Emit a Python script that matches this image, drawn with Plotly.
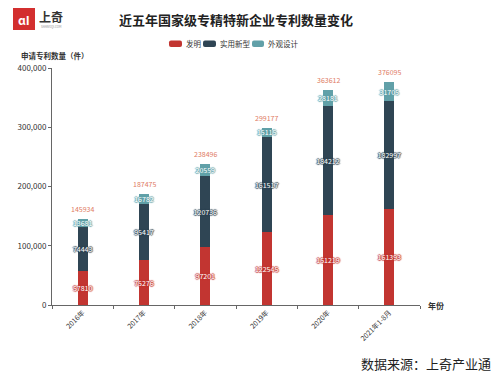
import plotly.graph_objects as go

years = ["2016年", "2017年", "2018年", "2019年", "2020年", "2021年1-8月"]
invention = [57810, 75276, 97201, 122545, 151219, 161393]
utility = [74443, 95417, 120736, 161517, 184212, 182997]
design = [13681, 16782, 20559, 15115, 28181, 31705]
totals = [145934, 187475, 238496, 299177, 363612, 376095]

series_names = ["发明", "实用新型", "外观设计"]
colors = ["#c23531", "#2f4554", "#61a0a8"]

OFF = 8  # default page body margin
W, H = 500 - OFF, 383 - OFF
L, R, T, B = 52 - OFF, 80, 68 - OFF, 78  # figure px
pw, ph = W - L - R, H - T - B

def px(x):  # x in reference-screenshot pixels
    return (x - OFF - L) / pw

def py(y):
    return (H - B - (y - OFF)) / ph

font = "Noto Sans CJK SC, Noto Sans, sans-serif"
fig = go.Figure()
for name, vals, c in zip(series_names, [invention, utility, design], colors):
    fig.add_trace(go.Bar(
        x=years, y=vals, name=name, marker=dict(color=c, line=dict(width=0)),
        text=[str(v) for v in vals], textposition="inside", insidetextanchor="middle",
        textangle=0, constraintext="none", showlegend=False,
        textfont=dict(size=7, color="white", family=font,
                      shadow=f"1px 0px 1px {c}, -1px 0px 1px {c}, 0px 1px 1px {c}, 0px -1px 1px {c}"),
        width=0.165,
    ))

for yr, tot in zip(years, totals):
    fig.add_annotation(x=yr, y=tot, text=str(tot), showarrow=False, yanchor="bottom",
                       yshift=3, font=dict(size=7, color="#e07b63", family=font))

fig.update_layout(
    width=W, height=H, barmode="stack",
    margin=dict(l=L, r=R, t=T, b=B, autoexpand=False),
    paper_bgcolor="white", plot_bgcolor="white",
    font=dict(family=font, color="#333", size=8),
    showlegend=False,
    xaxis=dict(showline=True, linecolor="#666", linewidth=1, ticks="outside",
               tickson="boundaries", ticklen=3, tickcolor="#666", tickangle=-45,
               tickfont=dict(size=7, color="#333"), showgrid=False),
    yaxis=dict(range=[0, 400000], showline=True, linecolor="#666", linewidth=1,
               ticks="outside", ticklen=3, tickcolor="#666", tickformat=",",
               dtick=100000, showgrid=False, tickfont=dict(size=8, color="#333"),
               zeroline=False),
)

def rrect(x0, x1, y0, y1, r=2):
    # rounded rect in reference pixels -> paper-coordinate SVG path
    X = lambda v: f"{px(v):.5f}"
    Y = lambda v: f"{py(v):.5f}"
    return (f"M {X(x0+r)},{Y(y0)} L {X(x1-r)},{Y(y0)} Q {X(x1)},{Y(y0)} {X(x1)},{Y(y0+r)} "
            f"L {X(x1)},{Y(y1-r)} Q {X(x1)},{Y(y1)} {X(x1-r)},{Y(y1)} "
            f"L {X(x0+r)},{Y(y1)} Q {X(x0)},{Y(y1)} {X(x0)},{Y(y1-r)} "
            f"L {X(x0)},{Y(y0+r)} Q {X(x0)},{Y(y0)} {X(x0+r)},{Y(y0)} Z")

# manual legend (reference-pixel positions)
legend_pos = [(169, 182, 184), (203, 216, 218), (252, 264, 266)]
for (x0, x1, tx), name, c in zip(legend_pos, series_names, colors):
    fig.add_shape(type="path", xref="paper", yref="paper", path=rrect(x0, x1, 40.5, 47),
                  fillcolor=c, line=dict(width=0))
    fig.add_annotation(text=name, x=px(tx), y=py(44), xref="paper", yref="paper",
                       xanchor="left", yanchor="middle", showarrow=False,
                       font=dict(size=7.5, color="#333"))

ann = [
    dict(text="<b>近五年国家级专精特新企业专利数量变化</b>", x=px(236), y=py(19),
         font=dict(size=13, color="#222")),
    dict(text="<b>申请专利数量（件）</b>", x=px(19), y=py(56), xanchor="left",
         font=dict(size=7.5, color="#333")),
    dict(text="<b>年份</b>", x=px(426), y=py(305), xanchor="left",
         font=dict(size=8, color="#333")),
    dict(text="数据来源：上奇产业通", x=px(493), y=py(363), xanchor="right",
         font=dict(size=13, color="#222")),
    dict(text="<b>ɑI</b>", x=px(24), y=py(19), font=dict(size=12, color="white")),
    dict(text="<b>上奇</b>", x=px(37), y=py(16), xanchor="left",
         font=dict(size=12, color="#333")),
    dict(text="SHANGQI.COM", x=px(39), y=py(27), xanchor="left",
         font=dict(size=3, color="#888")),
]
for a in ann:
    a.update(xref="paper", yref="paper", showarrow=False, yanchor="middle",
             xanchor=a.get("xanchor", "center"))
    fig.add_annotation(**a)

fig.add_shape(type="rect", xref="paper", yref="paper", x0=px(13), x1=px(35),
              y0=py(30), y1=py(8), fillcolor="#d32f2f", line=dict(width=0))

fig.write_html("out.html")
